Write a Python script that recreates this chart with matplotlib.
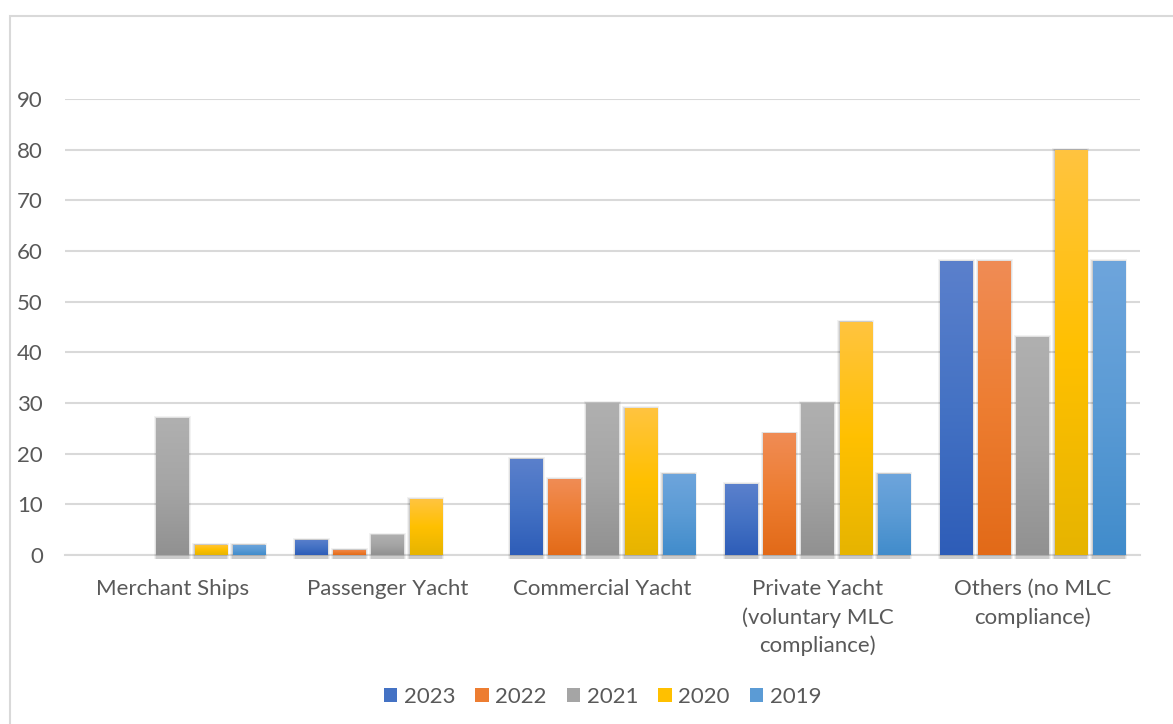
import numpy as np
import matplotlib.pyplot as plt
from matplotlib.colors import LinearSegmentedColormap
from matplotlib.patches import Rectangle

categories = ['Merchant Ships', 'Passenger Yacht', 'Commercial Yacht',
              'Private Yacht\n(voluntary MLC\ncompliance)', 'Others (no MLC\ncompliance)']
years = ['2023', '2022', '2021', '2020', '2019']
v2023 = [0, 3, 19, 14, 58]
v2022 = [0, 1, 15, 24, 58]
v2021 = [27, 4, 30, 30, 43]
v2020 = [2, 11, 29, 46, 80]
v2019 = [2, 0, 16, 16, 58]
series = [v2023, v2022, v2021, v2020, v2019]

# top, middle, bottom colours of the Excel gradient fill
grads = [
    ('#5B80CC', '#4472C4', '#2E5DB8'),
    ('#F08C55', '#ED7D31', '#E26A18'),
    ('#B0B0B0', '#A5A5A5', '#919191'),
    ('#FFC440', '#FFC000', '#E6B400'),
    ('#6EA5DC', '#5B9BD5', '#418CCB'),
]
txt = '#595959'
grid_c = '#D9D9D9'

plt.rcParams['font.family'] = ['Lato', 'DejaVu Sans']

fig = plt.figure(figsize=(11.73, 7.24), dpi=100)
# outer chart border
fig.add_artist(Rectangle((10/1173, -0.1), 1.2, 1 - 16/724 + 0.1, transform=fig.transFigure,
                         fill=False, edgecolor='#D9D9D9', linewidth=1.5))
ax = fig.add_axes([65/1173, (724-555)/724, (1140-65)/1173, (555-99)/724])

x = np.arange(len(categories))
w = 0.149
step = 0.177
grad = np.linspace(1, 0, 256).reshape(-1, 1)
for i, (vals, g) in enumerate(zip(series, grads)):
    pos = x + (i - 2) * step
    cmap = LinearSegmentedColormap.from_list('g%d' % i, [g[2], g[1], g[0]])
    bars = ax.bar(pos, vals, w, color=g[1], label=years[i], zorder=3)
    for b, v in zip(bars, vals):
        if v <= 0:
            continue
        x0 = b.get_x()
        # soft shadow
        for k, a in [(0.012, 0.05), (0.007, 0.07), (0.003, 0.09)]:
            ax.add_patch(Rectangle((x0 - k, -0.8), w + 2 * k, v + 0.8 + k * 30, facecolor='black',
                                   alpha=a, edgecolor='none', zorder=2, clip_on=False))
        im = ax.imshow(grad, cmap=cmap, extent=(x0, x0 + w, 0, v), aspect='auto',
                       zorder=4, interpolation='bicubic')
        im.set_clip_path(b)

ax.set_xlim(-0.5, len(categories) - 0.5)
ax.set_ylim(0, 90)
ax.set_yticks(np.arange(0, 91, 10))
ax.yaxis.grid(True, color=grid_c, linewidth=1.5, zorder=0)
ax.set_axisbelow(True)
for s in ['top', 'right', 'left']:
    ax.spines[s].set_visible(False)
ax.spines['bottom'].set_color(grid_c)
ax.spines['bottom'].set_linewidth(1.5)
ax.spines['bottom'].set_zorder(1)
ax.set_xticks(x)
ax.set_xticklabels(categories, linespacing=1.5, va='top')
ax.tick_params(axis='both', length=0, labelsize=16, labelcolor=txt)
ax.tick_params(axis='y', pad=16)
ax.tick_params(axis='x', pad=17)

ax.legend(loc='center', bbox_to_anchor=(0.5, (555 - 697) / 456),
          ncol=5, frameon=False, fontsize=16, handlelength=0.6, handleheight=0.6,
          handletextpad=0.3, columnspacing=0.9, labelcolor=txt)

plt.savefig('out.png', dpi=100)
